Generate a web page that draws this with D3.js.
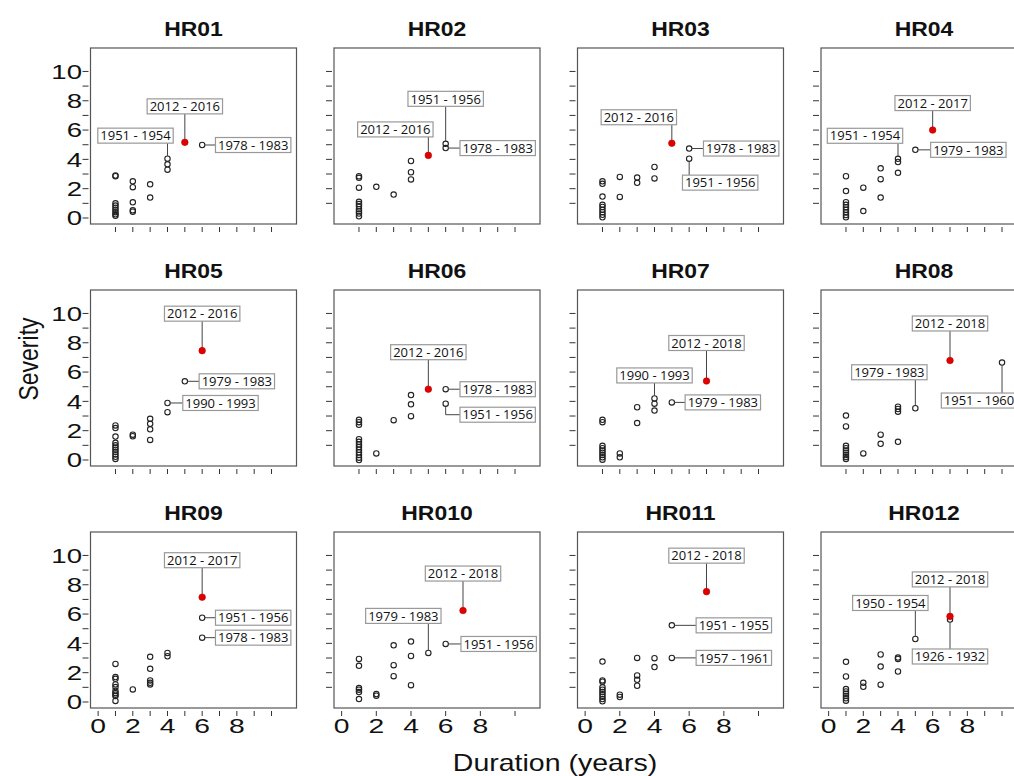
<!DOCTYPE html>
<html><head><meta charset="utf-8">
<script src="https://cdn.jsdelivr.net/npm/d3@7"></script>
<style>
html,body{margin:0;padding:0;background:#fff;}
svg{display:block;}
</style></head>
<body><svg id="chart" width="1014" height="776"></svg>
<script>
// ---------------- DATA ----------------
const titles = ["HR01","HR02","HR03","HR04","HR05","HR06","HR07","HR08","HR09","HR010","HR011","HR012"];

// historical events: [duration (years), severity]
const hr01 = [[1,2.9],[1,2.85],[1,1.0],[1,0.85],[1,0.7],[1,0.55],[1,0.4],[1,0.25],[1,0.15],[2,2.5],[2,2.1],[2,1.07],[2,0.52],[2,0.43],[3,2.3],[3,1.39],[4,4.05],[4,3.66],[4,3.3],[6,4.98]];
const hr02 = [[1,2.85],[1,2.74],[1,2.07],[1,1.1],[1,0.95],[1,0.8],[1,0.6],[1,0.45],[1,0.3],[1,0.12],[2,2.13],[3,1.6],[4,3.89],[4,3.12],[4,2.63],[6,5.06],[6,4.77]];
const hr03 = [[1,2.5],[1,2.33],[1,1.46],[1,0.9],[1,0.75],[1,0.56],[1,0.4],[1,0.22],[1,0.05],[2,2.8],[2,1.44],[3,2.76],[3,2.4],[4,3.48],[4,2.7],[6,4.74],[6,4.05]];
const hr04 = [[1,2.85],[1,1.84],[1,1.08],[1,0.9],[1,0.74],[1,0.56],[1,0.38],[1,0.2],[1,0.05],[2,2.07],[2,0.47],[3,3.39],[3,2.65],[3,1.39],[4,4.04],[4,3.82],[4,3.08],[5,4.65]];
const hr05 = [[1,2.36],[1,2.18],[1,1.6],[1,1.17],[1,1.0],[1,0.85],[1,0.7],[1,0.54],[1,0.38],[1,0.22],[1,0.07],[2,1.73],[2,1.62],[3,2.81],[3,2.47],[3,2.09],[3,1.37],[4,3.89],[4,3.26],[5,5.37]];
const hr06 = [[1,2.74],[1,2.58],[1,2.4],[1,1.42],[1,1.24],[1,1.06],[1,0.88],[1,0.7],[1,0.52],[1,0.34],[1,0.16],[1,0.0],[2,0.45],[3,2.72],[4,4.43],[4,3.8],[4,2.99],[6,4.83],[6,3.84]];
const hr07 = [[1,2.74],[1,2.58],[1,0.97],[1,0.8],[1,0.65],[1,0.5],[1,0.34],[1,0.18],[1,0.02],[2,0.45],[2,0.18],[3,3.6],[3,2.52],[4,4.2],[4,3.84],[4,3.37],[5,3.93]];
const hr08 = [[1,3.03],[1,2.29],[1,0.97],[1,0.8],[1,0.65],[1,0.5],[1,0.34],[1,0.2],[1,0.07],[2,0.45],[3,1.73],[3,1.1],[4,3.64],[4,3.48],[4,3.3],[4,1.24],[5,3.53],[10,6.65]];
const hr09 = [[1,2.6],[1,1.7],[1,1.58],[1,1.2],[1,1.02],[1,0.75],[1,0.61],[1,0.5],[1,0.41],[1,0.07],[2,0.86],[3,3.08],[3,2.26],[3,1.47],[3,1.31],[3,1.2],[4,3.35],[4,3.12],[6,5.75],[6,4.39]];
const hr010 = [[1,2.94],[1,2.47],[1,0.95],[1,0.84],[1,0.68],[1,0.2],[2,0.54],[2,0.43],[3,3.87],[3,2.51],[3,1.76],[4,4.12],[4,3.14],[4,1.15],[5,3.35],[6,3.96]];
const hr011 = [[1,2.76],[1,1.47],[1,1.38],[1,1.0],[1,0.84],[1,0.68],[1,0.52],[1,0.36],[1,0.2],[1,0.05],[2,0.5],[2,0.34],[3,3.01],[3,1.81],[3,1.51],[3,1.11],[4,2.99],[4,2.38],[5,5.23],[5,3.01]];
const hr012 = [[1,2.74],[1,1.74],[1,0.88],[1,0.72],[1,0.57],[1,0.41],[1,0.25],[1,0.09],[2,1.31],[2,1.04],[3,3.24],[3,2.42],[3,1.18],[4,3.03],[4,2.94],[4,2.08],[5,4.3],[7,5.63]];
const historical = [hr01,hr02,hr03,hr04,hr05,hr06,hr07,hr08,hr09,hr010,hr011,hr012];

// most recent drought (red): [duration, severity]
const recent = [[5,5.16],[5,4.27],[5,5.1],[6,6.0],[6,7.46],[5,4.83],[7,5.39],[7,6.79],[6,7.15],[7,6.24],[7,7.53],[7,5.84]];
const recentLabels = ["2012 - 2016","2012 - 2016","2012 - 2016","2012 - 2017","2012 - 2016","2012 - 2016","2012 - 2018","2012 - 2018","2012 - 2017","2012 - 2018","2012 - 2018","2012 - 2018"];

// labelled historical events: [duration, severity, label]
const histLabels = [
  [[4,4.05,"1951 - 1954"],[6,4.98,"1978 - 1983"]],
  [[6,5.06,"1951 - 1956"],[6,4.77,"1978 - 1983"]],
  [[6,4.74,"1978 - 1983"],[6,4.05,"1951 - 1956"]],
  [[4,4.04,"1951 - 1954"],[5,4.65,"1979 - 1983"]],
  [[5,5.37,"1979 - 1983"],[4,3.89,"1990 - 1993"]],
  [[6,4.83,"1978 - 1983"],[6,3.84,"1951 - 1956"]],
  [[4,4.2,"1990 - 1993"],[5,3.93,"1979 - 1983"]],
  [[5,3.53,"1979 - 1983"],[10,6.65,"1951 - 1960"]],
  [[6,5.75,"1951 - 1956"],[6,4.39,"1978 - 1983"]],
  [[5,3.35,"1979 - 1983"],[6,3.96,"1951 - 1956"]],
  [[5,5.23,"1951 - 1955"],[5,3.01,"1957 - 1961"]],
  [[5,4.3,"1950 - 1954"],[7,5.63,"1926 - 1932"]]
];

const xTickLabels = [0,2,4,6,8];
const yTickLabels = [0,2,4,6,8,10];
const xLabel = "Duration (years)";
const yLabel = "Severity";

// ---------------- LAYOUT (label placement: side, dx, dy in px) ----------------
const labelLayout = [
  [["top",0,-36],["top",-32,-23],["right",51,0]],
  [["top",-33,-26],["top",0,-45],["right",52,0]],
  [["top",-33,-26],["right",52,0],["bottom",31,24]],
  [["top",0,-27],["top",-33,-23],["right",53,0]],
  [["top",0,-37],["right",52,0],["right",53,0]],
  [["top",0,-37],["right",52,0],["right",52,11]],
  [["top",0,-38],["top",0,-23],["right",51,0]],
  [["top",0,-37],["top",-26,-36],["bottom",-23,38]],
  [["top",0,-37],["right",51,0],["right",51,0]],
  [["top",0,-37],["top",-25,-37],["right",53,0]],
  [["top",0,-36],["right",62,0],["right",62,0]],
  [["top",0,-37],["top",-25,-36],["bottom",0,37]]
];

const colLeft = [90.5, 334, 577.5, 821];
const rowTop = [48, 290, 532];
const W = 206, H = 176;
const axisFont = "'Liberation Sans', Arial, sans-serif";
const labFont = "'Open Sans', 'Noto Sans', sans-serif";
const TICK_SX = 1.38, TITLE_SX = 1.12, AXT_SX = 1.24;

const svg = d3.select("#chart");
svg.append("rect").attr("width",1014).attr("height",776).attr("fill","#fff");

titles.forEach((title, i) => {
  const r = Math.floor(i/4), c = i % 4;
  const L = colLeft[c], T = rowTop[r];
  const x = d3.scaleLinear().domain([-0.44, 11.44]).range([L, L+W]);
  const y = d3.scaleLinear().domain([-0.41, 11.6]).range([T+H, T]);
  const g = svg.append("g");

  // title
  g.append("text").attr("transform", `translate(${L+W/2},${T-12}) scale(${TITLE_SX},1)`).attr("text-anchor","middle")
    .attr("font-family", axisFont).attr("font-weight","bold").attr("font-size",20.5).attr("fill","#111")
    .text(title);

  // frame
  g.append("rect").attr("x",L).attr("y",T).attr("width",W).attr("height",H)
    .attr("fill","none").attr("stroke","#555").attr("stroke-width",1.2);

  // y ticks
  const yTicks = c === 0 ? d3.range(0,11) : d3.range(1,11);
  g.selectAll(".yt").data(yTicks).join("line")
    .attr("x1", L-2).attr("x2", L-8).attr("y1", d=>y(d)).attr("y2", d=>y(d))
    .attr("stroke","#333").attr("stroke-width",1);
  if (c === 0) {
    g.selectAll(".yl").data(yTickLabels).join("text")
      .attr("transform", d=>`translate(${L-8.5},${y(d)}) scale(${TICK_SX},1)`)
      .attr("dy","0.36em").attr("text-anchor","end")
      .attr("font-family", axisFont).attr("font-size",20).attr("fill","#111")
      .text(d=>d);
  }
  // x ticks
  let xTicks;
  if (r < 2) xTicks = d3.range(1,11);
  else if (c === 1 || c === 2) xTicks = d3.range(0,11,2);
  else xTicks = d3.range(0,11);
  g.selectAll(".xt").data(xTicks).join("line")
    .attr("x1", d=>x(d)).attr("x2", d=>x(d)).attr("y1", T+H+3).attr("y2", T+H+8)
    .attr("stroke","#333").attr("stroke-width",1);
  if (r === 2) {
    g.selectAll(".xl").data(xTickLabels).join("text")
      .attr("transform", d=>`translate(${x(d)},${T+H+25}) scale(${TICK_SX},1)`).attr("text-anchor","middle")
      .attr("font-family", axisFont).attr("font-size",20.5).attr("fill","#111")
      .text(d=>d);
  }

  // historical points
  g.selectAll(".pt").data(historical[i]).join("circle")
    .attr("cx", d=>x(d[0])).attr("cy", d=>y(d[1])).attr("r", 2.7)
    .attr("fill","none").attr("stroke","#222").attr("stroke-width",1.1);

  // annotations
  const ann = [[recent[i][0], recent[i][1], recentLabels[i]], ...histLabels[i]];
  ann.forEach((a, k) => {
    const [side, dx, dy] = labelLayout[i][k];
    const px = x(a[0]), py = y(a[1]);
    const cx = px + dx, cy = py + dy;
    const ag = g.append("g");
    const txt = ag.append("text").attr("x", cx).attr("y", cy).attr("dy","0.36em")
      .attr("text-anchor","middle").attr("font-family", labFont).attr("font-size",13).attr("fill","#111")
      .text(a[2]);
    const bw = txt.node().getComputedTextLength() + 5, bh = 15;
    const bx = cx - bw/2, by = cy - bh/2;
    let path;
    if (side === "top") path = `M${px},${py-2.7}V${by+bh}`;
    else if (side === "bottom") path = `M${px},${py+2.7}V${by}`;
    else if (dy === 0) path = `M${px+2.7},${py}H${bx}`;
    else path = `M${px},${py+2.7}V${cy}H${bx}`;
    ag.insert("path","text").attr("d", path).attr("fill","none").attr("stroke","#444").attr("stroke-width",1);
    ag.insert("rect","text").attr("x",bx).attr("y",by).attr("width",bw).attr("height",bh)
      .attr("fill","#fff").attr("stroke","#999").attr("stroke-width",1.2);
  });

  // recent point (red)
  g.append("circle").attr("cx", x(recent[i][0])).attr("cy", y(recent[i][1])).attr("r", 3.3)
    .attr("fill","#e00000").attr("stroke","#c00000").attr("stroke-width",0.6);
});

// axis titles
svg.append("text").attr("transform","translate(38,359) rotate(-90) scale(1,1.24)").attr("text-anchor","middle")
  .attr("font-family", axisFont).attr("font-size",23).attr("fill","#111").text(yLabel);
svg.append("text").attr("transform",`translate(555,771) scale(${AXT_SX},1)`).attr("text-anchor","middle")
  .attr("font-family", axisFont).attr("font-size",23).attr("fill","#111").text(xLabel);
</script></body></html>
